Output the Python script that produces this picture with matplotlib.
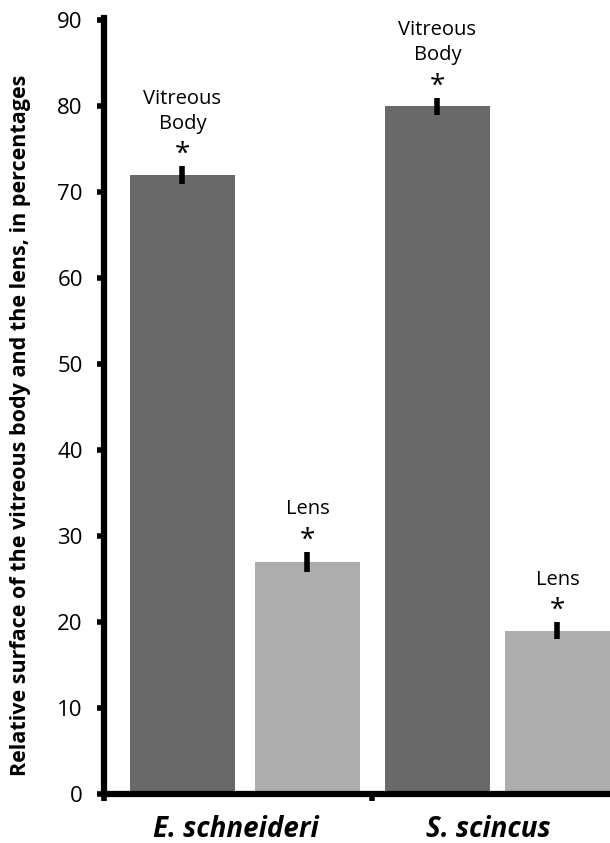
import matplotlib.pyplot as plt
import numpy as np

plt.rcParams['font.family'] = ['Open Sans', 'DejaVu Sans']

# data
species = ['E. schneideri', 'S. scincus']
parts = ['Vitreous\nBody', 'Lens', 'Vitreous\nBody', 'Lens']
values = [72, 27, 80, 19]
errors = [1.0, 1.2, 1.0, 1.0]
colors = ['#696969', '#adadad', '#696969', '#adadad']
yticks = [0, 10, 20, 30, 40, 50, 60, 70, 80, 90]

fig = plt.figure(figsize=(6.10, 8.43), dpi=100)
ax = fig.add_axes([0.170, 0.058, 0.830, 0.918])

x = np.array([0, 1, 2.04, 3.0])
ax.bar(x, values, width=0.84, color=colors, zorder=2)
ax.errorbar(x, values, yerr=errors, fmt='none', ecolor='black',
            elinewidth=4, capsize=0, zorder=3)

for xi, v, e, p in zip(x, values, errors, parts):
    top = v + e
    ax.annotate('*', (xi, top), xytext=(0, 3), textcoords='offset points',
                ha='center', va='baseline', fontsize=20)
    ax.annotate(p, (xi, top), xytext=(0, 27), textcoords='offset points',
                ha='center', va='baseline', fontsize=14.5, linespacing=1.35)

ax.set_xlim(-0.63, 3.42)
ax.set_ylim(0, 90)
ax.set_yticks(yticks)
ax.set_xticks([-0.63, 1.52])
ax.set_xticklabels([])
ax.tick_params(axis='y', direction='out', length=5, width=4, labelsize=16, pad=10)
ax.tick_params(axis='x', direction='out', length=5, width=4)

for s in ['top', 'right']:
    ax.spines[s].set_visible(False)
ax.spines['left'].set_linewidth(4.5)
ax.spines['bottom'].set_linewidth(4.5)
ax.spines['left'].set_bounds(0, 90.3)

# group labels under the axis
for gx, name in zip([(x[0] + x[1]) / 2 - 0.07, (x[2] + x[3]) / 2 - 0.07], species):
    ax.text(gx, -2.4, name, ha='center', va='top', fontsize=20,
            fontweight='bold', fontstyle='italic')

fig.text(21 / 610, 1 - 425 / 843,
         'Relative surface of the vitreous body and the lens, in percentages',
         rotation=90, ha='center', va='center', fontsize=15.5, fontweight='bold')

fig.savefig('out.png', dpi=100)
